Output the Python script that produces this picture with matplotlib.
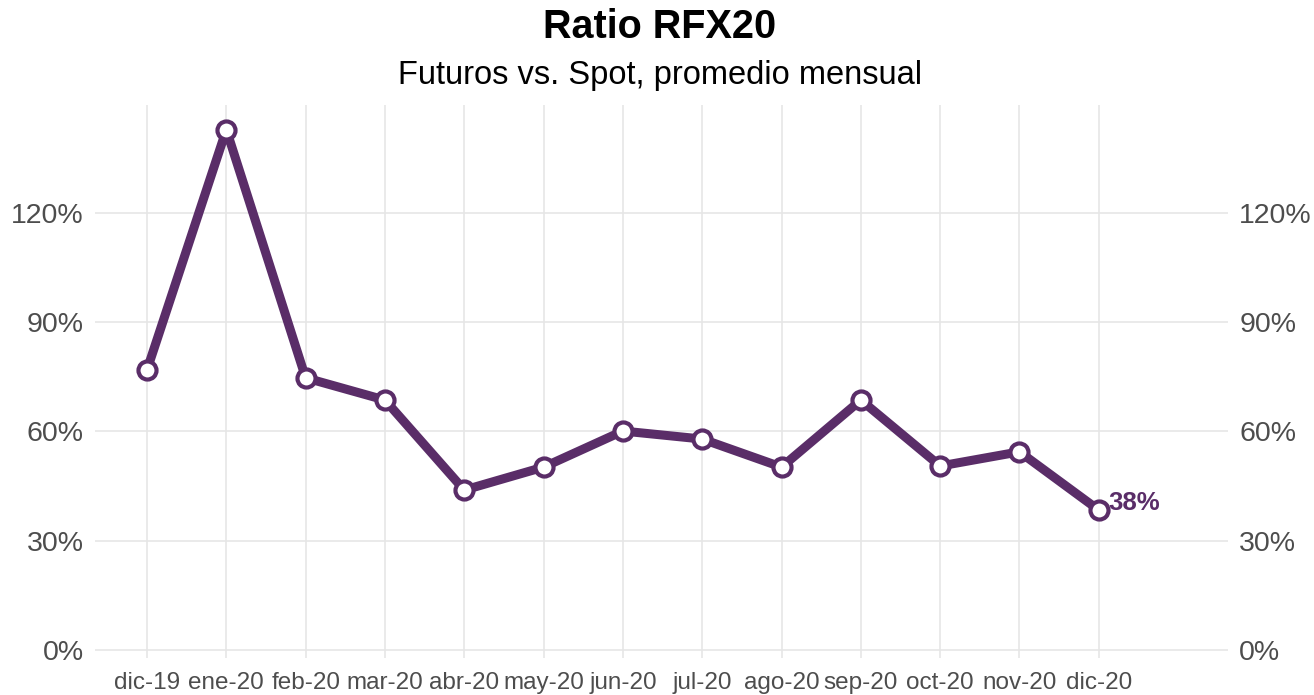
import matplotlib.pyplot as plt
from matplotlib.ticker import FuncFormatter

plt.rcParams['font.family'] = ['Liberation Sans', 'DejaVu Sans']

meses = ['dic-19', 'ene-20', 'feb-20', 'mar-20', 'abr-20', 'may-20', 'jun-20',
         'jul-20', 'ago-20', 'sep-20', 'oct-20', 'nov-20', 'dic-20']
ratio = [76.9, 142.8, 74.7, 68.6, 43.9, 50.2, 60.1, 57.9, 50.2, 68.6, 50.5, 54.4, 38.4]
yticks = [0, 30, 60, 90, 120]

violeta = '#5a2d68'
gris = '#4d4d4d'

fig = plt.figure(figsize=(13.14, 6.95), dpi=100)
ax = fig.add_axes([0.0723, 0.0532, 0.8623, 0.7958])

x = list(range(len(meses)))
ax.plot(x, ratio, color=violeta, lw=6.5, solid_joinstyle='round', zorder=3)
ax.plot(x, ratio, 'o', ms=13, mfc='white', mec=violeta, mew=3, zorder=4)

ax.annotate(f'{ratio[-1]:.0f}%', (x[-1], ratio[-1]), xytext=(7, 5),
            textcoords='offset points', color=violeta, fontsize=18.5,
            fontweight='bold', va='center', ha='left')

ax.set_xlim(-0.656, 13.63)
ax.set_ylim(-2.2, 149.6)
ax.set_xticks(x)
ax.set_xticklabels(meses)
ax.set_yticks(yticks)
ax.yaxis.set_major_formatter(FuncFormatter(lambda v, p: f'{v:.0f}%'))

ax.grid(True, color='#e6e6e6', lw=1.2)
ax.set_axisbelow(True)
for s in ax.spines.values():
    s.set_visible(False)
ax.tick_params(axis='both', length=0, colors=gris)
ax.tick_params(axis='x', labelsize=17.5, pad=10)
ax.tick_params(axis='y', labelsize=20.5, pad=8, labelright=True)

fig.text(0.502, 0.961, 'Ratio RFX20', ha='center', va='center',
         fontsize=28.5, fontweight='bold')
fig.text(0.502, 0.892, 'Futuros vs. Spot, promedio mensual', ha='center',
         va='center', fontsize=23.5)

fig.savefig('out.png', dpi=100)
